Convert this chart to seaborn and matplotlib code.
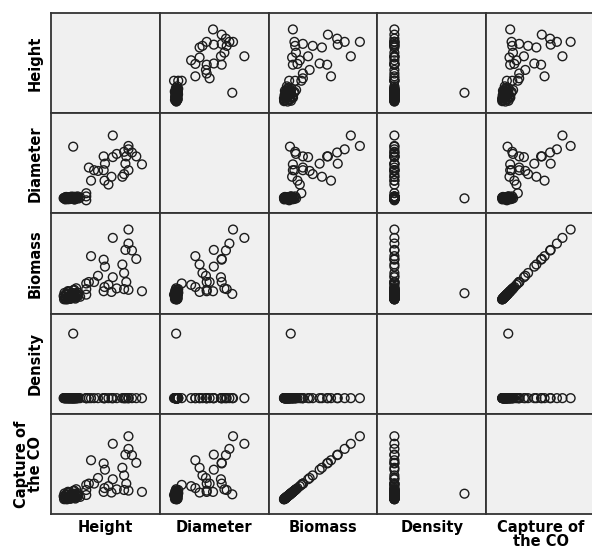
import matplotlib
matplotlib.use("Agg")
import matplotlib.pyplot as plt
import seaborn as sns
import pandas as pd

# ---- data ----
variables = ["Height", "Diameter", "Biomass", "Density", "Capture of\nthe CO"]

height = [20.0, 18.7, 17.7, 16.9, 16.9, 15.9, 16.2, 16.4, 16.9, 15.9, 15.5, 13.3, 14.2, 13.3,
          13.0, 12.3, 11.4, 11.2, 11.5, 11.2, 9.9, 8.3, 7.8, 4.2, 9.0, 7.2, 7.2, 7.2,
          4.2,
          2.0, 2.4, 2.5, 2.9, 3.1, 3.4, 3.6, 3.8, 4.0, 4.2, 4.3, 4.5, 4.7, 4.9, 5.1, 5.2,
          2.7, 3.3, 3.8, 4.3, 5.4, 5.8, 2.2, 2.6, 3.0, 3.5, 3.9, 4.4, 4.8, 3.2, 2.8, 4.1,
          2.3, 2.9, 3.4, 3.7, 4.0, 4.6, 5.0, 2.5, 3.1, 3.6, 4.2, 4.7, 2.1, 3.3, 3.9, 4.5]
diameter = [23.7, 28.2, 30.4, 32.2, 34.1, 30.8, 24.1, 28.2, 20.4, 18.2, 16.7, 40.0, 29.6, 27.8,
            16.7, 12.3, 14.5, 20.4, 24.1, 28.2, 20.0, 14.5, 21.9, 33.7, 20.4, 3.4, 5.6, 7.4,
            4.5,
            4.6, 3.9, 5.2, 4.4, 5.0, 4.1, 4.8, 5.5, 4.3, 5.1, 4.7, 3.8, 5.3, 4.5, 4.9, 5.6,
            5.0, 4.2, 4.6, 5.4, 4.4, 5.0, 4.8, 5.3, 4.0, 4.7, 5.1, 4.3, 4.5, 5.2, 4.9, 4.6,
            4.4, 4.9, 4.6, 5.1, 4.2, 4.8, 5.0, 4.7, 4.3, 4.9, 4.5, 5.2, 4.6, 4.4, 4.8, 4.1]
biomass = [64, 292, 352, 401, 500, 79, 356, 129, 74, 193, 253, 441, 84, 163,
           59, 109, 94, 64, 238, 287, 173, 312, 129, 45, 129, 40, 79, 119,
           50,
           30, 8, 45, 15, 60, 22, 10, 50, 35, 70, 18, 40, 12, 85, 28, 55,
           40, 62, 20, 48, 32, 25, 52, 38, 65, 14, 42, 75, 24, 58, 6, 44,
           12, 26, 18, 34, 22, 30, 46, 9, 16, 28, 36, 20, 7, 24, 38, 26]
density = [0.55, 0.55, 0.55, 0.55, 0.55, 0.55, 0.55, 0.55, 0.55, 0.55, 0.55, 0.55, 0.55, 0.55,
           0.55, 0.55, 0.55, 0.55, 0.55, 0.55, 0.55, 0.55, 0.55, 0.55, 0.55, 0.55, 0.55, 0.55,
           0.95,
           0.55, 0.55, 0.55, 0.55, 0.55, 0.55, 0.55, 0.55, 0.55, 0.55, 0.55, 0.55, 0.55, 0.55, 0.55, 0.55,
           0.55, 0.55, 0.55, 0.55, 0.55, 0.55, 0.55, 0.55, 0.55, 0.55, 0.55, 0.55, 0.55, 0.55, 0.55, 0.55,
           0.55, 0.55, 0.55, 0.55, 0.55, 0.55, 0.55, 0.55, 0.55, 0.55, 0.55, 0.55, 0.55, 0.55, 0.55, 0.55]
capture = [117.4, 535.8, 645.9, 735.8, 917.5, 145.0, 653.3, 236.7, 135.8, 354.2, 464.3, 809.2, 154.1, 299.1,
           108.3, 200.0, 172.5, 117.4, 436.7, 526.6, 317.5, 572.5, 236.7, 82.6, 236.7, 73.4, 145.0, 218.4,
           91.8,
           55.1, 14.7, 82.6, 27.5, 110.1, 40.4, 18.4, 91.8, 64.2, 128.5, 33.0, 73.4, 22.0, 156.0, 51.4, 100.9,
           73.4, 113.8, 36.7, 88.1, 58.7, 45.9, 95.4, 69.7, 119.3, 25.7, 77.1, 137.6, 44.0, 106.4, 11.0, 80.7,
           22.0, 47.7, 33.0, 62.4, 40.4, 55.1, 84.4, 16.5, 29.4, 51.4, 66.1, 36.7, 12.8, 44.0, 69.7, 47.7]

df = pd.DataFrame({variables[0]: height, variables[1]: diameter, variables[2]: biomass,
                   variables[3]: density, variables[4]: capture})

# axis extents (style)
limits = {variables[0]: (-0.9, 24.1), variables[1]: (-4.0, 52.6), variables[2]: (-94, 614),
          variables[3]: (0.453, 1.074), variables[4]: (-200, 1240)}

W, H = 592, 552
g = sns.PairGrid(df, vars=variables, height=1.1, aspect=1.0, despine=False, diag_sharey=False)
g.map_offdiag(sns.scatterplot, s=40, facecolor="none", edgecolor="#1c1c1c", linewidth=1.0)
fig = g.figure
fig.set_size_inches(W / 100, H / 100)
fig.set_dpi(100)
fig.patch.set_facecolor("white")

left, right, top, bottom = 51 / W, 595 / W, 1 - 13 / H, 1 - 514 / H
fig.subplots_adjust(left=left, right=right, top=top, bottom=bottom, wspace=0, hspace=0)

n = len(variables)
for i in range(n):
    for j in range(n):
        ax = g.axes[i, j]
        ax.set_facecolor("#f0f0f0")
        ax.set_xlim(limits[variables[j]])
        ax.set_ylim(limits[variables[i]])
        ax.set_xticks([])
        ax.set_yticks([])
        ax.set_xlabel("")
        ax.set_ylabel("")
        for sp in ax.spines.values():
            sp.set_color("#333333")
            sp.set_linewidth(1.3)

font = dict(family="DejaVu Sans", fontweight="bold", fontsize=10.5)
for i, v in enumerate(variables):
    yc = 1 - (13 + 100.2 * (i + 0.5)) / H
    fig.text(43 / W, yc, v, rotation=90, ha="right", va="center", multialignment="center",
             linespacing=0.95, **font)
    xc = (51 + 108.8 * (i + 0.5)) / W
    fig.text(xc, 1 - 520 / H, v, ha="center", va="top", multialignment="center",
             linespacing=0.95, **font)

fig.savefig("out.png", dpi=100, facecolor="white")
